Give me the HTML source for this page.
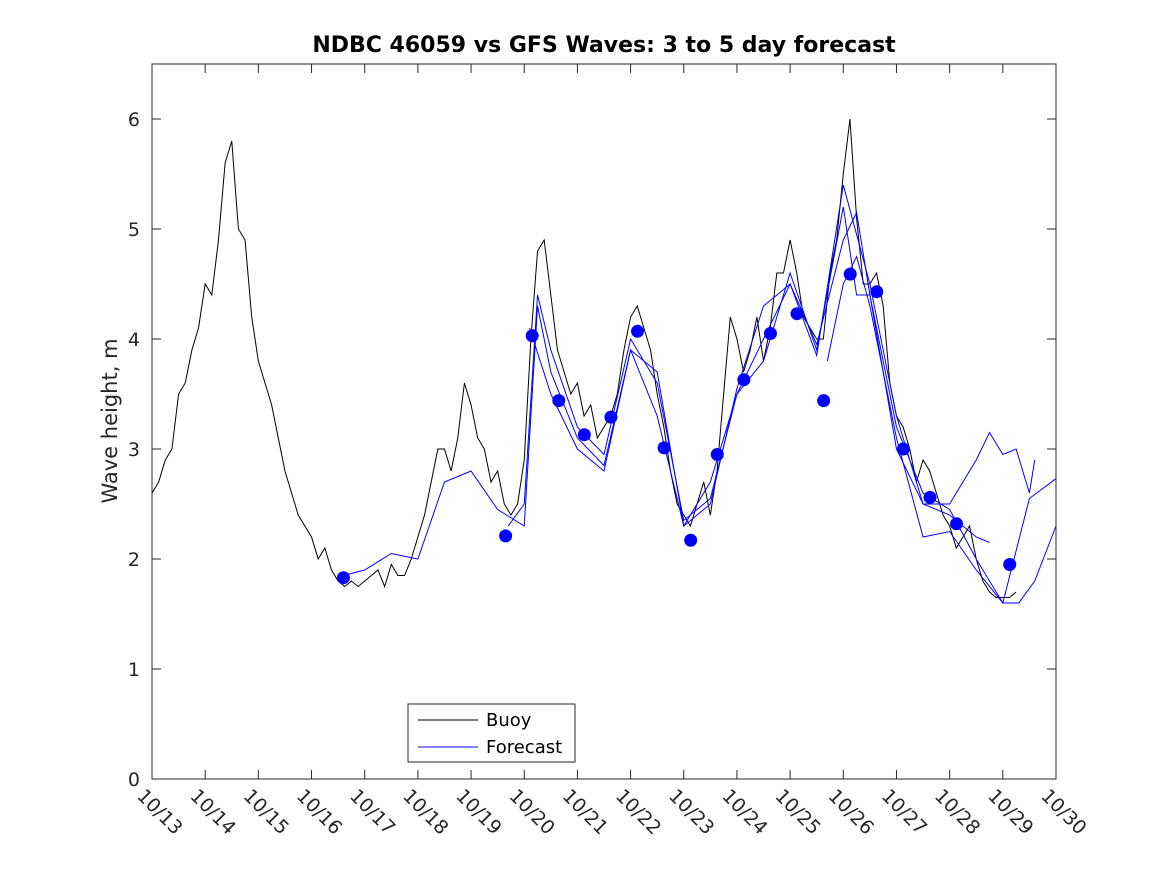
<!DOCTYPE html>
<html><head><meta charset="utf-8"><style>
body{margin:0;background:#fff;}
svg{font-family:"DejaVu Sans","Liberation Sans",sans-serif;}
</style></head><body>
<svg id="chart" width="1167" height="875">
<rect x="0" y="0" width="1167" height="875" fill="#fff"/>
<text x="604" y="52" text-anchor="middle" font-size="22" font-weight="bold" fill="#000">NDBC 46059 vs GFS Waves: 3 to 5 day forecast</text>
<text transform="translate(117,421) rotate(-90)" text-anchor="middle" font-size="21" fill="#262626">Wave height, m</text>
<g id="axes"></g>
<g id="series"></g>
<g>
<rect x="408" y="704" width="167" height="58" fill="#fff" stroke="#262626" stroke-width="1"/>
<line x1="418" y1="720" x2="478" y2="720" stroke="#000" stroke-width="1"/>
<text x="486" y="726" font-size="18" fill="#000">Buoy</text>
<line x1="418" y1="747" x2="478" y2="747" stroke="#00f" stroke-width="1"/>
<text x="486" y="753" font-size="18" fill="#000">Forecast</text>
</g>
</svg>
<script>
const xTickLabels=["10/13","10/14","10/15","10/16","10/17","10/18","10/19","10/20","10/21","10/22","10/23","10/24","10/25","10/26","10/27","10/28","10/29","10/30"];
const yTicks=[0,1,2,3,4,5,6];
const buoyStart=13, buoyStep=0.125;
const buoyValues=[2.6,2.7,2.9,3.0,3.5,3.6,3.9,4.1,
4.5,4.4,4.9,5.6,5.8,5.0,4.9,4.2,
3.8,3.6,3.4,3.1,2.8,2.6,2.4,2.3,
2.2,2.0,2.1,1.9,1.8,1.75,1.8,1.75,
1.8,1.85,1.9,1.75,1.95,1.85,1.85,2.0,
2.2,2.4,2.7,3.0,3.0,2.8,3.1,3.6,
3.4,3.1,3.0,2.7,2.8,2.5,2.4,2.5,
2.9,4.0,4.8,4.9,4.4,3.9,3.7,3.5,
3.6,3.3,3.4,3.1,3.2,3.3,3.5,3.9,
4.2,4.3,4.1,3.9,3.5,3.2,2.8,2.5,
2.4,2.3,2.5,2.7,2.4,2.8,3.5,4.2,
4.0,3.7,3.9,4.2,3.8,4.1,4.6,4.6,
4.9,4.6,4.2,4.1,4.0,4.0,4.6,4.9,
5.5,6.0,5.1,4.5,4.5,4.6,4.3,3.6,
3.3,3.2,3.0,2.7,2.9,2.8,2.6,2.4,
2.3,2.1,2.2,2.3,2.0,1.8,1.7,1.65,
1.65,1.65,1.7];
const f1Days=[16.6,17,17.5,18,18.5,19,19.5,20,20.25,20.5,21,21.5,22,22.5,23,23.5,24,24.5,25,25.5,26,26.25,26.5,27,27.5,28,28.5,28.75];
const f1Values=[1.85,1.9,2.05,2.0,2.7,2.8,2.45,2.3,4.3,3.7,3.1,2.85,3.9,3.7,2.3,2.7,3.5,3.8,4.6,3.9,5.2,4.4,4.4,3.0,2.5,2.4,2.2,2.15];
const f2Days=[19.7,20,20.25,20.5,21,21.5,22,22.5,23,23.5,24,24.5,25,25.5,26,26.5,27,27.5,28,28.5,28.75,29,29.25,29.5,29.6];
const f2Values=[2.3,2.5,4.4,3.9,3.2,2.95,4.0,3.6,2.35,2.55,3.5,4.0,4.5,3.85,5.4,4.5,3.3,2.5,2.5,2.9,3.15,2.95,3.0,2.6,2.9];
const f3Days=[20.1,20.5,21,21.5,22,22.5,23,23.5,24,24.5,25,25.5,26,26.25,26.5,27,27.5,28,28.5,29,29.5,30];
const f3Values=[4.1,3.5,3.0,2.8,3.9,3.3,2.3,2.5,3.55,4.3,4.5,3.95,4.9,5.15,4.4,3.2,2.6,2.45,2.0,1.6,2.55,2.73];
const f4Days=[25.7,26,26.25,26.5,27,27.5,28,28.5,29,29.3,29.6,30];
const f4Values=[3.8,4.5,4.75,4.3,3.1,2.2,2.25,1.9,1.6,1.6,1.8,2.3];
const dotDays=[16.6,19.65,20.15,20.65,21.13,21.63,22.13,22.63,23.13,23.63,24.13,24.63,25.13,25.63,26.13,26.63,27.13,27.63,28.13,29.13];
const dotValues=[1.83,2.21,4.03,3.44,3.13,3.29,4.07,3.01,2.17,2.95,3.63,4.05,4.23,3.44,4.59,4.43,3.00,2.56,2.32,1.95];

const L=152,R=1056,T=64,B=779;
const xs=d=>L+(d-13)*(R-L)/17;
const ys=v=>B-v*(B-T)/6.5;
const NS="http://www.w3.org/2000/svg";
function mk(tag,attrs,parent){const e=document.createElementNS(NS,tag);for(const k in attrs)e.setAttribute(k,attrs[k]);parent.appendChild(e);return e;}
const ax=document.getElementById('axes'), se=document.getElementById('series');
const frame=mk('rect',{x:L,y:T,width:R-L,height:B-T,fill:'none',stroke:'#262626','stroke-width':1},ax);


yTicks.forEach(v=>{
 mk('line',{x1:L,x2:L+9,y1:ys(v),y2:ys(v),stroke:'#262626'},ax);
 mk('line',{x1:R,x2:R-9,y1:ys(v),y2:ys(v),stroke:'#262626'},ax);
 const t=mk('text',{x:L-12,y:ys(v)+7,'text-anchor':'end','font-size':19,fill:'#262626'},ax);
 t.textContent=v;
 
 
});
xTickLabels.forEach((lab,i)=>{
 const x=xs(13+i);
 mk('line',{x1:x,x2:x,y1:B,y2:B-9,stroke:'#262626'},ax);
 mk('line',{x1:x,x2:x,y1:T,y2:T+9,stroke:'#262626'},ax);
 const t=mk('text',{x:x-16,y:B+18,'font-size':19,fill:'#262626',transform:`rotate(45 ${x-16} ${B+18})`},ax);
 t.textContent=lab;
 
 
});
const bp=mk('polyline',{points:buoyValues.map((v,i)=>xs(buoyStart+i*buoyStep)+','+ys(v)).join(' '),fill:'none',stroke:'#000','stroke-width':1},se);


[[f1Days,f1Values],[f2Days,f2Values],[f3Days,f3Values],[f4Days,f4Values]].forEach(([d,v])=>{
 const p=mk('polyline',{points:d.map((dd,i)=>xs(dd)+','+ys(v[i])).join(' '),fill:'none',stroke:'#00f','stroke-width':1},se);
 
 
});
dotDays.forEach((d,i)=>{
 const c=mk('circle',{cx:xs(d),cy:ys(dotValues[i]),r:6.5,fill:'#00f'},se);
 
 
});
</script>
</body></html>
